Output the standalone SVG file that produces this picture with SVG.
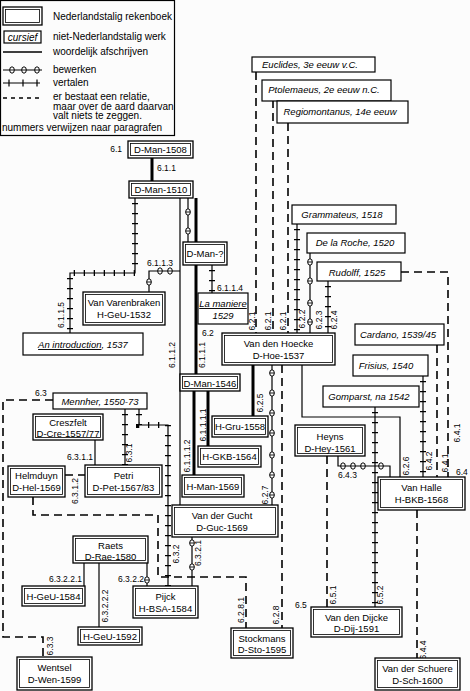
<svg xmlns="http://www.w3.org/2000/svg" xmlns:xlink="http://www.w3.org/1999/xlink" width="470" height="691" viewBox="0 0 470 691">
<style>
text{font-family:"Liberation Sans",Arial,sans-serif;fill:#000}
.t{font-size:9.5px;text-anchor:middle}
.it{font-size:9.5px;font-style:italic;text-anchor:middle}
.lg{font-size:10px}
.lb{font-size:8.5px}
.r{text-anchor:middle;dominant-baseline:central}
.e{text-anchor:end}
.o{fill:#fff;stroke:#000;stroke-width:1.3}
.i{fill:none;stroke:#000;stroke-width:0.8}
.s{fill:#fff;stroke:#000;stroke-width:1.2}
.thin{fill:none;stroke:#000;stroke-width:1.2}
.thick{fill:none;stroke:#000;stroke-width:3}
.dash{fill:none;stroke:#000;stroke-width:1.6;stroke-dasharray:8 5}
.tk{fill:none;stroke:#000;stroke-width:6;stroke-dasharray:1.3 8.7;stroke-dashoffset:-5}
</style>
<defs>
<g id="b"><ellipse rx="2.3" ry="3.2" fill="#fff" stroke="#000" stroke-width="1"/><line x1="-2.3" x2="2.3" stroke="#000" stroke-width="0.9"/></g>
</defs>
<rect width="470" height="691" fill="#fcfcfc"/>

<g id="legend">
<rect x="0.5" y="0.5" width="174" height="135" fill="none" stroke="#000" stroke-width="1.2"/>
<rect class="o" x="3" y="7" width="39" height="18"/><rect class="i" x="5.5" y="9.5" width="34" height="13"/>
<text class="lg" x="53" y="19.5">Nederlandstalig rekenboek</text>
<rect class="s" x="4" y="31" width="37" height="12"/>
<text class="lg" x="22.5" y="40.5" font-style="italic" text-anchor="middle" font-size="9.5">cursief</text>
<text class="lg" x="53" y="40">niet-Nederlandstalig werk</text>
<line x1="3" y1="52" x2="42" y2="52" stroke="#000" stroke-width="1.5"/>
<text class="lg" x="53" y="55">woordelijk afschrijven</text>
<line x1="3" y1="70" x2="42" y2="70" stroke="#000" stroke-width="1.2"/>
<use xlink:href="#b" x="12" y="70"/><use xlink:href="#b" x="24" y="70"/><use xlink:href="#b" x="37" y="70"/>
<text class="lg" x="53" y="73">bewerken</text>
<path class="thin" d="M3,83H40M9,79.5V86.5M23,79.5V86.5M37,79.5V86.5"/>
<text class="lg" x="53" y="86">vertalen</text>
<line x1="3" y1="98" x2="42" y2="98" stroke="#000" stroke-width="1.4" stroke-dasharray="4 4"/>
<text class="lg" x="53" y="100">er bestaat een relatie,</text>
<text class="lg" x="53" y="109.5">maar over de aard daarvan</text>
<text class="lg" x="53" y="119">valt niets te zeggen.</text>
<text class="lg" x="2" y="131">nummers verwijzen naar paragrafen</text>
</g>

<g id="connectors">
<path class="thick" d="M152,158V181"/>
<path class="thin" d="M135,198V273H70V333"/><path class="tk" d="M135,198V273H70V333"/>
<path class="thin" d="M188,198V242"/>
<path class="thick" d="M196,198V375"/>
<path class="thin" d="M180,198V505"/>
<path class="thin" d="M180,271H149V292"/>
<path class="thin" d="M212,265V293"/><path class="tk" d="M212,265V293"/>
<path class="dash" d="M256,72V333M273,100V333M288,123V333"/>
<path class="thin" d="M297,224V333"/><path class="tk" d="M297,224V333"/>
<path class="thin" d="M310,253V333"/>
<path class="thin" d="M328,281V333"/><path class="tk" d="M328,281V333"/>
<path class="dash" d="M401,272H448V477"/>
<path class="thick" d="M253,365V416"/>
<path class="thin" d="M272,365V505"/>
<path class="dash" d="M282,365V628"/>
<path class="thin" d="M302,365V417H400V477"/>
<path class="thick" d="M208,391V446"/>
<path class="thick" d="M194,391V475"/>
<path class="dash" d="M437,345V477"/>
<path class="thin" d="M423,376V477"/><path class="tk" d="M423,376V477"/>
<path class="thin" d="M375,407V607"/><path class="tk" d="M375,407V607"/>
<path class="thin" d="M338,456V466H390V477"/>
<path class="dash" d="M327,456V607"/>
<path class="dash" d="M417,510V658"/>
<path class="dash" d="M53,400H3V637H43V657"/>
<path class="thin" d="M125,409V465"/><path class="tk" d="M125,409V465"/>
<path class="thin" d="M139,409V425H168V586"/><path class="tk" d="M139,409V425H168V586"/>
<path class="thin" d="M95,438V465"/>
<path class="dash" d="M65,475H85"/>
<path class="dash" d="M33,497V515H158V577H246V628"/>
<path class="thin" d="M192,537V586" stroke-width="2"/>
<path class="thin" d="M84,563V586"/>
<path class="thin" d="M99,563V627"/>
<path class="thin" d="M147,563V586"/>
<use xlink:href="#b" x="188" y="212"/><use xlink:href="#b" x="188" y="231"/>
<use xlink:href="#b" x="160" y="271"/><use xlink:href="#b" x="170" y="271"/><use xlink:href="#b" x="149" y="282"/>
<use xlink:href="#b" x="310" y="262"/><use xlink:href="#b" x="310" y="281"/><use xlink:href="#b" x="310" y="303"/><use xlink:href="#b" x="310" y="322"/>
<use xlink:href="#b" x="272" y="373"/><use xlink:href="#b" x="272" y="393"/><use xlink:href="#b" x="272" y="413"/><use xlink:href="#b" x="272" y="433"/><use xlink:href="#b" x="272" y="455"/><use xlink:href="#b" x="272" y="475"/><use xlink:href="#b" x="272" y="495"/>
<use xlink:href="#b" x="343" y="466"/><use xlink:href="#b" x="353" y="466"/><use xlink:href="#b" x="363" y="466"/><use xlink:href="#b" x="381" y="466"/>
<use xlink:href="#b" x="192" y="543"/><use xlink:href="#b" x="192" y="567"/>
<use xlink:href="#b" x="147" y="580"/>
</g>

<g id="labels">
<text class="lb e" x="122" y="152">6.1</text>
<text class="lb" x="157" y="171">6.1.1</text>
<text class="lb" x="147" y="266">6.1.1.3</text>
<text class="lb" x="217" y="291">6.1.1.4</text>
<text class="lb" x="202" y="336">6.2</text>
<text class="lb" x="35" y="396">6.3</text>
<text class="lb e" x="93" y="460">6.3.1.1</text>
<text class="lb" x="338" y="478">6.4.3</text>
<text class="lb" x="456" y="475">6.4</text>
<text class="lb" x="295" y="608">6.5</text>
<text class="lb e" x="82" y="582">6.3.2.2.1</text>
<text class="lb e" x="144" y="582">6.3.2.2</text>
<text class="lb r" x="61" y="315" transform="rotate(-90 61 315)">6.1.1.5</text>
<text class="lb r" x="202" y="355" transform="rotate(-90 202 355)">6.1.1.1</text>
<text class="lb r" x="172" y="355" transform="rotate(-90 172 355)">6.1.1.2</text>
<text class="lb r" x="252" y="321" transform="rotate(-90 252 321)">6.2.1</text>
<text class="lb r" x="268" y="321" transform="rotate(-90 268 321)">6.2.1</text>
<text class="lb r" x="283" y="321" transform="rotate(-90 283 321)">6.2.1</text>
<text class="lb r" x="302" y="319" transform="rotate(-90 302 319)">6.2.2</text>
<text class="lb r" x="319" y="320" transform="rotate(-90 319 320)">6.2.3</text>
<text class="lb r" x="334" y="320" transform="rotate(-90 334 320)">6.2.4</text>
<text class="lb r" x="457" y="433" transform="rotate(-90 457 433)">6.4.1</text>
<text class="lb r" x="260" y="403" transform="rotate(-90 260 403)">6.2.5</text>
<text class="lb r" x="265" y="495" transform="rotate(-90 265 495)">6.2.7</text>
<text class="lb r" x="276" y="615" transform="rotate(-90 276 615)">6.2.8</text>
<text class="lb r" x="406" y="466" transform="rotate(-90 406 466)">6.2.6</text>
<text class="lb r" x="203" y="425" transform="rotate(-90 203 425)">6.1.1.1.1</text>
<text class="lb r" x="187" y="456" transform="rotate(-90 187 456)">6.1.1.1.2</text>
<text class="lb r" x="445" y="463" transform="rotate(-90 445 463)">6.4.1</text>
<text class="lb r" x="429" y="461" transform="rotate(-90 429 461)">6.4.2</text>
<text class="lb r" x="380" y="595" transform="rotate(-90 380 595)">6.5.2</text>
<text class="lb r" x="333" y="595" transform="rotate(-90 333 595)">6.5.1</text>
<text class="lb r" x="423" y="650" transform="rotate(-90 423 650)">6.4.4</text>
<text class="lb r" x="50" y="646" transform="rotate(-90 50 646)">6.3.3</text>
<text class="lb r" x="129" y="453" transform="rotate(-90 129 453)">6.3.1</text>
<text class="lb r" x="176" y="554" transform="rotate(-90 176 554)">6.3.2</text>
<text class="lb r" x="75" y="491" transform="rotate(-90 75 491)">6.3.1.2</text>
<text class="lb r" x="241" y="610" transform="rotate(-90 241 610)">6.2.8.1</text>
<text class="lb r" x="198" y="553" transform="rotate(-90 198 553)">6.3.2.1</text>
<text class="lb r" x="105" y="606" transform="rotate(-90 105 606)">6.3.2.2.2</text>
</g>

<g id="n-euclides"><rect class="s" x="252" y="57" width="123" height="15"/><text class="it" x="310" y="68">Euclides, 3e eeuw v.C.</text></g>
<g id="n-ptolemaeus"><rect class="s" x="262" y="80" width="129" height="21"/><text class="it" x="324" y="93">Ptolemaeus, 2e eeuw n.C.</text></g>
<g id="n-regiomontanus"><rect class="s" x="277" y="101" width="131" height="22"/><text class="it" x="340" y="115">Regiomontanus, 14e eeuw</text></g>
<g id="n-dman1508"><rect class="o" x="128" y="141" width="65" height="17"/><rect class="i" x="130.5" y="143.5" width="60" height="12"/><text class="t" x="160.5" y="153">D-Man-1508</text></g>
<g id="n-dman1510"><rect class="o" x="129" y="181" width="64" height="17"/><rect class="i" x="131.5" y="183.5" width="59" height="12"/><text class="t" x="161" y="193">D-Man-1510</text></g>
<g id="n-dmanq"><rect class="o" x="183" y="242" width="44" height="23"/><rect class="i" x="185.5" y="244.5" width="39" height="18"/><text class="t" x="205" y="257">D-Man-?</text></g>
<g id="n-varenbraken"><rect class="o" x="83" y="292" width="82" height="33"/><rect class="i" x="85.5" y="294.5" width="77" height="28"/><text class="t" x="124" y="306">Van Varenbraken</text><text class="t" x="124" y="318">H-GeU-1532</text></g>
<g id="n-introduction"><rect class="s" x="23" y="333" width="120" height="22"/><text class="it" x="83" y="348"><tspan text-decoration="underline">An introduction</tspan>, 1537</text></g>
<g id="n-lamaniere"><rect class="s" x="198" y="293" width="50" height="31"/><text class="it" x="223" y="307" text-decoration="underline">La maniere</text><text class="it" x="223" y="319">1529</text></g>
<g id="n-grammateus"><rect class="s" x="292" y="205" width="104" height="19"/><text class="it" x="342" y="218">Grammateus, 1518</text></g>
<g id="n-delaroche"><rect class="s" x="307" y="233" width="98" height="20"/><text class="it" x="355" y="246">De la Roche, 1520</text></g>
<g id="n-rudolff"><rect class="s" x="317" y="262" width="84" height="19"/><text class="it" x="357" y="276">Rudolff, 1525</text></g>
<g id="n-cardano"><rect class="s" x="355" y="324" width="89" height="21"/><text class="it" x="398" y="338">Cardano, 1539/45</text></g>
<g id="n-hoecke"><rect class="o" x="222" y="333" width="113" height="32"/><rect class="i" x="224.5" y="335.5" width="108" height="27"/><text class="t" x="278.5" y="347">Van den Hoecke</text><text class="t" x="278.5" y="359">D-Hoe-1537</text></g>
<g id="n-frisius"><rect class="s" x="353" y="355" width="75" height="21"/><text class="it" x="386" y="369">Frisius, 1540</text></g>
<g id="n-gomparst"><rect class="s" x="323" y="386" width="96" height="21"/><text class="it" x="369" y="400">Gomparst, na 1542</text></g>
<g id="n-dman1546"><rect class="o" x="180" y="374" width="60" height="17"/><rect class="i" x="182.5" y="376.5" width="55" height="12"/><text class="t" x="210" y="386.5">D-Man-1546</text></g>
<g id="n-hgru"><rect class="o" x="212" y="416" width="56" height="21"/><rect class="i" x="214.5" y="418.5" width="51" height="16"/><text class="t" x="240" y="430">H-Gru-1558</text></g>
<g id="n-hgkb"><rect class="o" x="198" y="446" width="63" height="21"/><rect class="i" x="200.5" y="448.5" width="58" height="16"/><text class="t" x="229.5" y="460">H-GKB-1564</text></g>
<g id="n-hman"><rect class="o" x="182" y="475" width="62" height="22"/><rect class="i" x="184.5" y="477.5" width="57" height="17"/><text class="t" x="213" y="489.5">H-Man-1569</text></g>
<g id="n-heyns"><rect class="o" x="295" y="425" width="70" height="31"/><rect class="i" x="297.5" y="427.5" width="65" height="26"/><text class="t" x="330" y="440">Heyns</text><text class="t" x="330" y="452">D-Hey-1561</text></g>
<g id="n-vanhalle"><rect class="o" x="378" y="477" width="87" height="33"/><rect class="i" x="380.5" y="479.5" width="82" height="28"/><text class="t" x="421.5" y="491">Van Halle</text><text class="t" x="421.5" y="503">H-BKB-1568</text></g>
<g id="n-mennher"><rect class="s" x="53" y="393" width="94" height="16"/><text class="it" x="100" y="404.5">Mennher, 1550-73</text></g>
<g id="n-creszfelt"><rect class="o" x="33" y="414" width="70" height="26"/><rect class="i" x="35.5" y="416.5" width="65" height="21"/><text class="t" x="68" y="426">Creszfelt</text><text class="t" x="68" y="437">D-Cre-1557/77</text></g>
<g id="n-petri"><rect class="o" x="85" y="465" width="77" height="32"/><rect class="i" x="87.5" y="467.5" width="72" height="27"/><text class="t" x="123.5" y="479">Petri</text><text class="t" x="123.5" y="491">D-Pet-1567/83</text></g>
<g id="n-helmduyn"><rect class="o" x="8" y="466" width="57" height="31"/><rect class="i" x="10.5" y="468.5" width="52" height="26"/><text class="t" x="36.5" y="479">Helmduyn</text><text class="t" x="36.5" y="491">D-Hel-1569</text></g>
<g id="n-vdgucht"><rect class="o" x="172" y="505" width="106" height="32"/><rect class="i" x="174.5" y="507.5" width="101" height="27"/><text class="t" x="222" y="519">Van der Gucht</text><text class="t" x="222" y="531">D-Guc-1569</text></g>
<g id="n-raets"><rect class="o" x="73" y="536" width="75" height="27"/><rect class="i" x="75.5" y="538.5" width="70" height="22"/><text class="t" x="110.5" y="548.5">Raets</text><text class="t" x="110.5" y="560">D-Rae-1580</text></g>
<g id="n-hgeu1584"><rect class="o" x="22" y="586" width="63" height="20"/><rect class="i" x="24.5" y="588.5" width="58" height="15"/><text class="t" x="53.5" y="599.5">H-GeU-1584</text></g>
<g id="n-pijck"><rect class="o" x="133" y="586" width="65" height="32"/><rect class="i" x="135.5" y="588.5" width="60" height="27"/><text class="t" x="165.5" y="600">Pijck</text><text class="t" x="165.5" y="612">H-BSA-1584</text></g>
<g id="n-hgeu1592"><rect class="o" x="78" y="627" width="64" height="18"/><rect class="i" x="80.5" y="629.5" width="59" height="13"/><text class="t" x="110" y="640">H-GeU-1592</text></g>
<g id="n-wentsel"><rect class="o" x="17" y="657" width="75" height="33"/><rect class="i" x="19.5" y="659.5" width="70" height="28"/><text class="t" x="54.5" y="671">Wentsel</text><text class="t" x="54.5" y="683">D-Wen-1599</text></g>
<g id="n-stockmans"><rect class="o" x="231" y="628" width="62" height="30"/><rect class="i" x="233.5" y="630.5" width="57" height="25"/><text class="t" x="262" y="641.5">Stockmans</text><text class="t" x="262" y="653">D-Sto-1595</text></g>
<g id="n-vddijcke"><rect class="o" x="311" y="607" width="91" height="30"/><rect class="i" x="313.5" y="609.5" width="86" height="25"/><text class="t" x="356.5" y="621">Van den Dijcke</text><text class="t" x="356.5" y="632">D-Dij-1591</text></g>
<g id="n-vdschuere"><rect class="o" x="375" y="658" width="85" height="32"/><rect class="i" x="377.5" y="660.5" width="80" height="27"/><text class="t" x="417.5" y="672">Van der Schuere</text><text class="t" x="417.5" y="684">D-Sch-1600</text></g>
</svg>
